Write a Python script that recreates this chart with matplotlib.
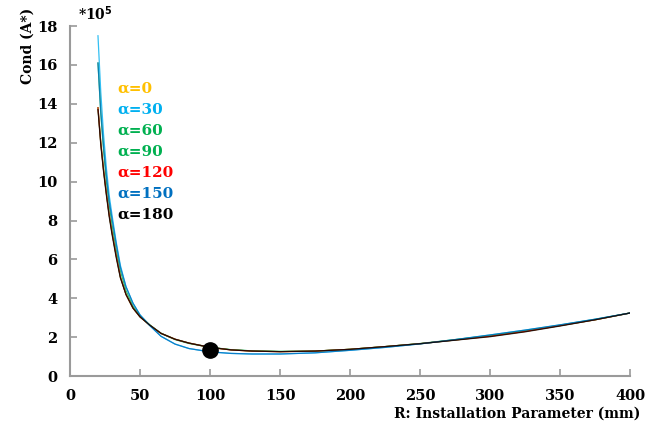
import matplotlib
matplotlib.use("Agg")
import matplotlib.pyplot as plt

r = [20, 22, 24, 26, 28, 30, 33, 36, 40, 45, 50, 57, 65, 75, 85, 100,
     115, 130, 150, 175, 200, 225, 250, 275, 300, 325, 350, 375, 400]

# Cond (A*) in units of 1e5, one list per angle
cond_0 = [13.8, 12.0, 10.6, 9.4, 8.3, 7.4, 6.2, 5.1, 4.2, 3.5, 3.05, 2.62, 2.2, 1.9, 1.7, 1.48,
          1.35, 1.29, 1.26, 1.29, 1.38, 1.52, 1.67, 1.86, 2.05, 2.3, 2.6, 2.9, 3.25]
cond_30 = [17.5, 14.6, 12.4, 10.7, 9.3, 8.3, 6.9, 5.7, 4.6, 3.75, 3.15, 2.6, 2.05, 1.65, 1.42, 1.25,
           1.17, 1.14, 1.14, 1.2, 1.33, 1.48, 1.66, 1.88, 2.12, 2.37, 2.64, 2.93, 3.25]
cond_60 = [16.1, 13.5, 11.6, 10.0, 8.8, 7.8, 6.5, 5.4, 4.4, 3.6, 3.1, 2.64, 2.2, 1.88, 1.68, 1.48,
           1.36, 1.3, 1.27, 1.29, 1.38, 1.52, 1.68, 1.88, 2.09, 2.34, 2.62, 2.92, 3.25]
cond_90 = [13.8, 12.0, 10.6, 9.4, 8.3, 7.4, 6.2, 5.1, 4.2, 3.5, 3.05, 2.62, 2.21, 1.9, 1.7, 1.49,
           1.36, 1.3, 1.27, 1.29, 1.38, 1.52, 1.67, 1.86, 2.07, 2.32, 2.6, 2.9, 3.25]
cond_120 = [13.8, 12.0, 10.6, 9.4, 8.3, 7.4, 6.2, 5.1, 4.2, 3.5, 3.05, 2.62, 2.2, 1.9, 1.7, 1.48,
            1.35, 1.29, 1.26, 1.29, 1.38, 1.52, 1.67, 1.86, 2.05, 2.3, 2.6, 2.9, 3.25]
cond_150 = [16.1, 13.6, 11.8, 10.3, 9.0, 8.1, 6.8, 5.6, 4.6, 3.75, 3.15, 2.6, 2.05, 1.65, 1.42, 1.25,
            1.17, 1.14, 1.14, 1.2, 1.33, 1.48, 1.66, 1.88, 2.12, 2.37, 2.64, 2.93, 3.25]
cond_180 = [13.7, 11.9, 10.5, 9.3, 8.2, 7.3, 6.1, 5.05, 4.2, 3.5, 3.05, 2.62, 2.2, 1.9, 1.7, 1.48,
            1.35, 1.29, 1.26, 1.29, 1.38, 1.52, 1.67, 1.85, 2.03, 2.28, 2.58, 2.9, 3.25]

labels = ["\u03b1=0", "\u03b1=30", "\u03b1=60", "\u03b1=90", "\u03b1=120", "\u03b1=150", "\u03b1=180"]
colors = ["#FFC000", "#00B0F0", "#00B050", "#00B050", "#FF0000", "#0070C0", "#000000"]
series = [cond_0, cond_30, cond_60, cond_90, cond_120, cond_150, cond_180]

# optimum point
opt_r = [100]
opt_c = [1.35]

plt.rcParams['font.family'] = ['DejaVu Serif']
plt.rcParams['font.weight'] = 'bold'

fig = plt.figure(figsize=(6.6, 4.41), dpi=100)
ax = fig.add_axes([0.106, 0.147, 0.849, 0.794])

for ys, c in zip(series, colors):
    ax.plot(r, ys, color=c, lw=0.9, alpha=0.8)

ax.plot(opt_r, opt_c, 'o', color='black', markersize=11, zorder=5)

ax.set_xlim(0, 400)
ax.set_ylim(0, 18)
ax.set_xticks(range(0, 401, 50))
ax.set_yticks(range(0, 19, 2))

for s in ['top', 'right']:
    ax.spines[s].set_visible(False)
for s in ['left', 'bottom']:
    ax.spines[s].set_color('#9a9a9a')
    ax.spines[s].set_linewidth(1.5)
ax.tick_params(direction='in', length=5, width=1.2, color='#9a9a9a',
               labelsize=10.5, pad=9)
for t in ax.get_xticklabels() + ax.get_yticklabels():
    t.set_fontweight('bold')

# coloured labels instead of a legend box
for i, (lab, c) in enumerate(zip(labels, colors)):
    ax.text(34, 14.8 - i * 1.08, lab, color=c, fontsize=11,
            fontweight='bold', va='center', ha='left')

fig.text(0.042, 0.895, 'Cond (A*)', rotation=90, ha='center', va='center',
         fontsize=10, fontweight='bold')
fig.text(0.145, 0.968, '*10$^{5}$', ha='center', va='center',
         fontsize=10, fontweight='bold')
fig.text(0.97, 0.063, 'R: Installation Parameter (mm)', ha='right', va='center',
         fontsize=10, fontweight='bold')

plt.savefig('out.png', dpi=100)
